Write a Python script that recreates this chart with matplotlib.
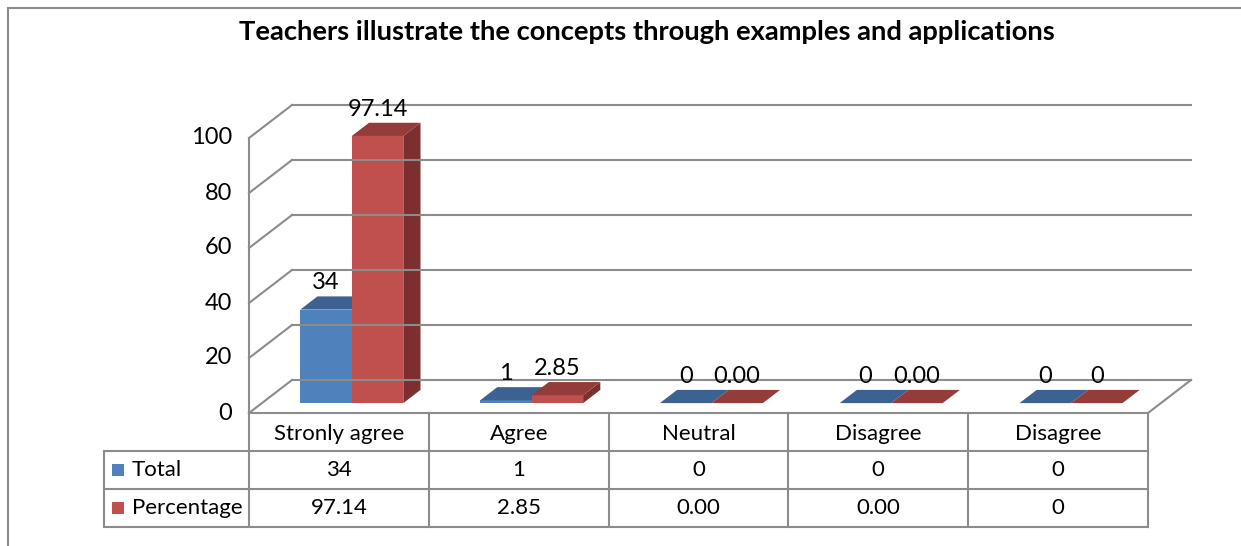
import matplotlib.pyplot as plt
from matplotlib.patches import Polygon, Rectangle
from matplotlib.lines import Line2D

categories = ['Stronly agree', 'Agree', 'Neutral', 'Disagree', 'Disagree']
total = [34, 1, 0, 0, 0]
percentage = [97.14, 2.85, 0.00, 0.00, 0]
total_labels = ['34', '1', '0', '0', '0']
percentage_labels = ['97.14', '2.85', '0.00', '0.00', '0']
series_names = ['Total', 'Percentage']
yticks = [0, 20, 40, 60, 80, 100]
title = 'Teachers illustrate the concepts through examples and applications'

# colours: front, top, side
blue = ('#4F81BD', '#3C6291', '#2F4F78')
red = ('#C0504D', '#933C3A', '#7B2F2E')
grid_c = '#8C8C8C'

W, H = 1241, 546
plt.rcParams['font.family'] = ['Lato', 'DejaVu Sans']
fig = plt.figure(figsize=(W / 100, H / 100), dpi=100)
fs_num = 17      # tick and data labels
fs_tab = 16      # table text


def fx(px):
    return px / W


def fy(py):
    return 1 - py / H


# front plane of the 3-d box
left, right, base, top = 249, 1148, 413, 138
n = len(categories)
cat_px = (right - left) / n
ax = fig.add_axes([fx(left), fy(base), (right - left) / W, (base - top) / H])
ax.set_xlim(0, n)
ax.set_ylim(0, 100)
ax.axis('off')

DX = 43 / cat_px                 # depth in category units
DY = 33 / ((base - top) / 100)   # depth in value units

# walls and grid
for v in yticks:
    ax.plot([DX, n + DX], [v + DY, v + DY], color=grid_c, lw=1.5, clip_on=False)
    ax.plot([0, DX], [v, v + DY], color=grid_c, lw=1.5, clip_on=False)
    ax.text(-17 / cat_px, v, str(v), ha='right', va='center', fontsize=fs_num)
ax.plot([0, 0], [0, 100], color=grid_c, lw=1.5, clip_on=False)
ax.plot([n, n + DX], [0, DY], color=grid_c, lw=1.5, clip_on=False)

# bars
bw = 0.2865
d0, d1 = 0.3, 0.7


def bar3d(x0, v, cols):
    ox0, oy0, ox1, oy1 = d0 * DX, d0 * DY, d1 * DX, d1 * DY
    front = Rectangle((x0 + ox0, oy0), bw, v, facecolor=cols[0], edgecolor='none')
    topf = Polygon([(x0 + ox0, v + oy0), (x0 + bw + ox0, v + oy0),
                    (x0 + bw + ox1, v + oy1), (x0 + ox1, v + oy1)],
                   facecolor=cols[1], edgecolor='none')
    side = Polygon([(x0 + bw + ox0, oy0), (x0 + bw + ox1, oy1),
                    (x0 + bw + ox1, v + oy1), (x0 + bw + ox0, v + oy0)],
                   facecolor=cols[2], edgecolor='none')
    for p in (side, front, topf):
        p.set_clip_on(False)
        ax.add_patch(p)


for i in range(n):
    xb = i + 0.5 - bw
    xr = i + 0.5
    bar3d(xb, total[i], blue)
    bar3d(xr, percentage[i], red)
    ax.text(xb + bw / 2 + d0 * DX, total[i] + d1 * DY + 5, total_labels[i],
            ha='center', va='center', fontsize=fs_num)
    ax.text(xr + bw / 2 + d0 * DX, percentage[i] + d1 * DY + 5, percentage_labels[i],
            ha='center', va='center', fontsize=fs_num)

# data table
lab_w = (left - 104) / cat_px
tax = fig.add_axes([fx(104), fy(527), (right - 104) / W, (527 - base) / H])
tax.set_xlim(-lab_w, n)
tax.set_ylim(3, 0)
tax.axis('off')
tax.plot([0, n], [0, 0], color=grid_c, lw=1.5, clip_on=False)
for r in (1, 2, 3):
    tax.plot([-lab_w, n], [r, r], color=grid_c, lw=1.5, clip_on=False)
for c in range(n + 1):
    tax.plot([c, c], [0, 3], color=grid_c, lw=1.5, clip_on=False)
tax.plot([-lab_w, -lab_w], [1, 3], color=grid_c, lw=1.5, clip_on=False)

for i, cat in enumerate(categories):
    tax.text(i + 0.5, 0.55, cat, ha='center', va='center', fontsize=fs_tab)
    tax.text(i + 0.5, 1.5, total_labels[i], ha='center', va='center', fontsize=fs_tab)
    tax.text(i + 0.5, 2.5, percentage_labels[i], ha='center', va='center', fontsize=fs_tab)

sq_w = 12 / cat_px
for r, (name, cols) in enumerate(zip(series_names, (blue, red))):
    tax.add_patch(Rectangle((-lab_w + 8 / cat_px, r + 1.5 - 0.16), sq_w, 0.32,
                            facecolor=cols[0], edgecolor='none', clip_on=False))
    tax.text(-lab_w + 28 / cat_px, r + 1.5, name, ha='left', va='center', fontsize=fs_tab)

# title and chart border
fig.text(fx(647), fy(32), title, ha='center', va='center', fontsize=19.7, fontweight='bold')
fig.add_artist(Line2D([fx(8), 1], [fy(8), fy(8)], color=grid_c, lw=1.5))
fig.add_artist(Line2D([fx(8), fx(8)], [fy(8), 0], color=grid_c, lw=1.5))

fig.savefig('out.png', dpi=100, facecolor='white')
